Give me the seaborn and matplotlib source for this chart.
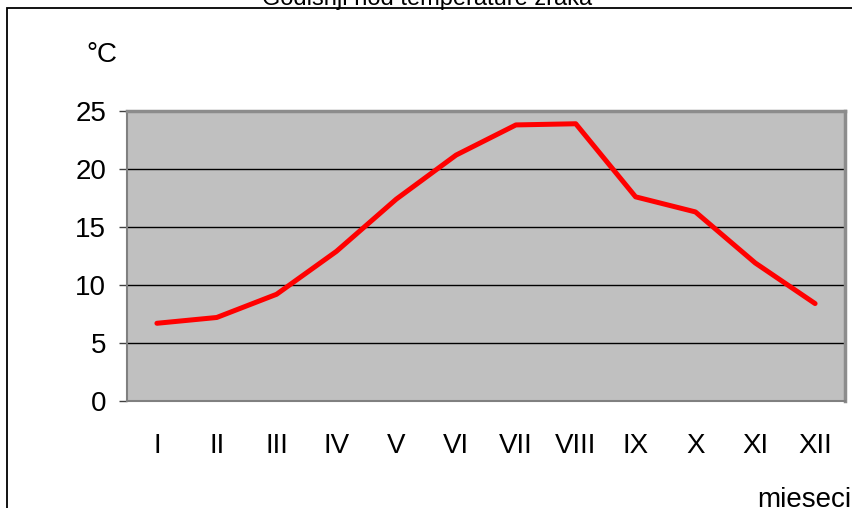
import numpy as np
import pandas as pd
import seaborn as sns
import matplotlib.pyplot as plt
from matplotlib.patches import Rectangle

# mjeseci i srednje temperature zraka
mjeseci = ['I', 'II', 'III', 'IV', 'V', 'VI', 'VII', 'VIII', 'IX', 'X', 'XI', 'XII']
temperature = [6.7, 7.2, 9.2, 12.9, 17.4, 21.2, 23.8, 23.9, 17.6, 16.3, 11.9, 8.4]
y_ticks = [0, 5, 10, 15, 20, 25]

df = pd.DataFrame({'mjesec': np.arange(len(mjeseci)), 'temp': temperature})

sns.set_style('white')
plt.rcParams['font.family'] = ['Liberation Sans', 'DejaVu Sans']
plt.rcParams['text.color'] = 'black'
plt.rcParams['xtick.color'] = 'black'
plt.rcParams['ytick.color'] = 'black'

fig = plt.figure(figsize=[8.53, 5.08], dpi=100)
ax = fig.add_axes([127/853, 1-401/508, (845-127)/853, (401-111)/508])
ax.set_facecolor('#C0C0C0')

sns.lineplot(data=df, x='mjesec', y='temp', color='#FF0000', linewidth=3.6,
             ax=ax, solid_capstyle='round', solid_joinstyle='round', zorder=3)

ax.set_xlim(-0.5, len(mjeseci) - 0.5)
ax.set_ylim(0, 25)
ax.set_yticks(y_ticks)
ax.set_yticklabels([str(v) for v in y_ticks], fontsize=20)
ax.set_xticks(np.arange(len(mjeseci)))
ax.set_xticklabels(mjeseci, fontsize=20)
ax.set_xticks(np.arange(len(mjeseci) + 1) - 0.5, minor=True)
ax.tick_params(axis='x', which='major', length=0, pad=23)
ax.tick_params(axis='x', which='minor', length=6, width=1, color='#404040')
ax.tick_params(axis='y', length=6, width=1, color='#404040', pad=9, left=True)
for v in y_ticks[1:-1]:
    ax.axhline(v, color='black', linewidth=1, zorder=2)
ax.set_xlabel('')
ax.set_ylabel('')

for side in ['left', 'bottom']:
    ax.spines[side].set_color('#808080')
    ax.spines[side].set_linewidth(1.5)
for side in ['top', 'right']:
    ax.spines[side].set_visible(True)
    ax.spines[side].set_color('#8C8C8C')
    ax.spines[side].set_linewidth(2.5)

# okvir slike
fig.patches.append(Rectangle((7.5/853, -0.1), 1.2, 1.1 - 8/508, transform=fig.transFigure,
                             fill=False, edgecolor='black', linewidth=1.3))

fig.text(427/853, 1 - 5/508, 'Godišnji hod temperature zraka', ha='center', va='baseline', fontsize=17)
fig.text(102/853, 1 - 55/508, '°C', ha='center', va='center', fontsize=20)
fig.text(804/853, 1/508, 'mieseci', ha='center', va='baseline', fontsize=20)

fig.savefig('out.png', dpi=100)
